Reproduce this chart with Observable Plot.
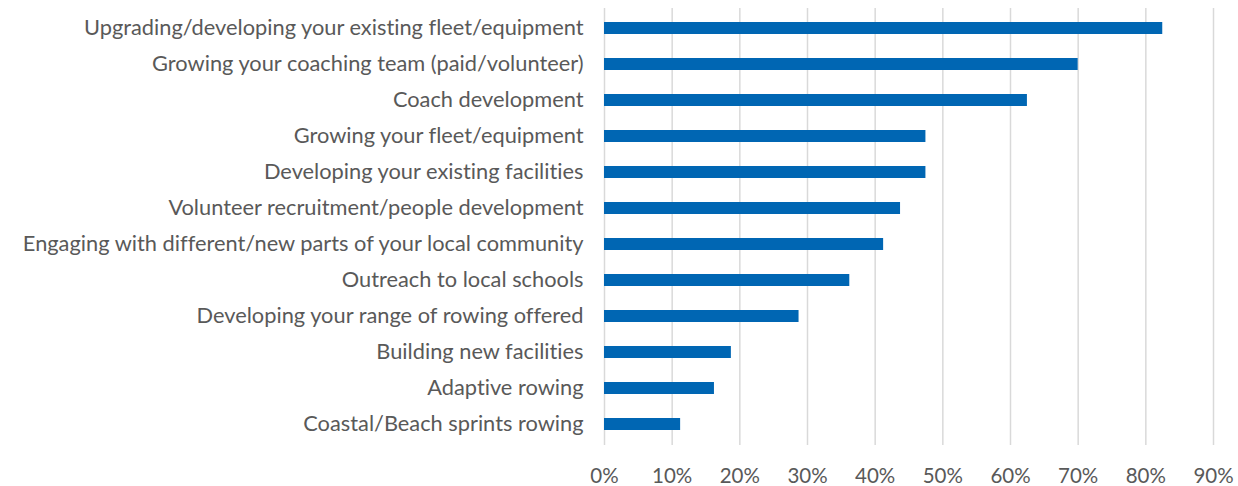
<!DOCTYPE html>
<html>
<head>
<meta charset="utf-8">
<script src="https://cdn.jsdelivr.net/npm/d3@7"></script>
<script src="https://cdn.jsdelivr.net/npm/@observablehq/plot@0.6"></script>
<style>
  html, body { margin: 0; padding: 0; background: #fff; }
  #chart svg { display: block; }
  #chart svg text { font-variant-ligatures: none; font-feature-settings: "liga" 0, "dlig" 0; }
</style>
</head>
<body>
<div id="chart"></div>
<script>
const categories = [
  "Upgrading/developing your existing fleet/equipment",
  "Growing your coaching team (paid/volunteer)",
  "Coach development",
  "Growing your fleet/equipment",
  "Developing your existing facilities",
  "Volunteer recruitment/people development",
  "Engaging with different/new parts of your local community",
  "Outreach to local schools",
  "Developing your range of rowing offered",
  "Building new facilities",
  "Adaptive rowing",
  "Coastal/Beach sprints rowing"
];
const values = [0.825, 0.70, 0.625, 0.475, 0.475, 0.4375, 0.4125, 0.3625, 0.2875, 0.1875, 0.1625, 0.1125];
const xTicks = [0, 0.1, 0.2, 0.3, 0.4, 0.5, 0.6, 0.7, 0.8, 0.9];

const data = categories.map((c, i) => ({category: c, value: values[i]}));
const pct = d => Math.round(d * 100) + "%";

const chart = Plot.plot({
  width: 1238,
  height: 486,
  marginLeft: 604,
  marginRight: 25,
  marginTop: 8,
  marginBottom: 41,
  style: {fontFamily: "Lato, sans-serif", fontSize: "20px", color: "#595959", background: "#fff"},
  x: {domain: [0, 0.9], ticks: xTicks, tickFormat: pct},
  y: {domain: categories, paddingInner: 0.66, paddingOuter: 0.33},
  marks: [
    Plot.gridX(xTicks, {stroke: "#d9d9d9", strokeOpacity: 1, strokeWidth: 1.5}),
    Plot.barX(data, {x: "value", y: "category", fill: "#0066B3"}),
    Plot.axisX({ticks: xTicks, tickSize: 0, tickPadding: 23, tickFormat: pct, fontSize: 20.5, fill: "#595959", label: null}),
    Plot.axisY({tickSize: 0, tickPadding: 21, fontSize: 21.8, fill: "#595959", label: null})
  ]
});
document.getElementById("chart").appendChild(chart);
</script>
</body>
</html>
